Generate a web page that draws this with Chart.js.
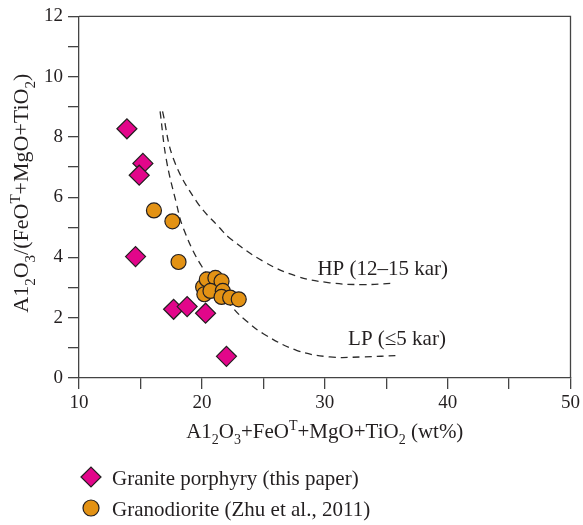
<!DOCTYPE html>
<html>
<head>
<meta charset="utf-8">
<title>Al2O3/(FeOT+MgO+TiO2) vs Al2O3+FeOT+MgO+TiO2</title>
<script src="https://cdn.jsdelivr.net/npm/chart.js@4.4.1/dist/chart.umd.min.js"></script>
<style>
  html, body { margin: 0; padding: 0; background: #fff; }
  #wrap { width: 583px; height: 525px; }
</style>
</head>
<body>
<div id="wrap"><canvas id="chart" width="583" height="525"></canvas></div>
<script>
// labelled ticks (minor ticks are drawn unlabelled in between)
var xTicks = [10, 20, 30, 40, 50];
var yTicks = [0, 2, 4, 6, 8, 10, 12];

// granite porphyry (this paper)
var porphyryX = [13.9, 15.2, 14.9, 14.6, 17.7, 18.8, 20.3, 22.0];
var porphyryY = [8.27, 7.12, 6.73, 4.03, 2.28, 2.37, 2.15, 0.72];

// granodiorite (Zhu et al., 2011)
var granodioriteX = [16.1, 17.6, 18.1, 20.1, 20.4, 21.1, 21.6, 20.2, 20.7, 21.7, 21.6, 22.3, 23.0];
var granodioriteY = [5.56, 5.20, 3.85, 3.02, 3.27, 3.32, 3.21, 2.78, 2.89, 2.89, 2.69, 2.67, 2.61];

// pressure boundary curves
var hpX = [16.8, 17.7, 19.6, 21.5, 22.3, 25.0, 27.7, 30.4, 33.1, 35.5];
var hpY = [8.85, 7.26, 5.84, 4.96, 4.63, 3.87, 3.38, 3.16, 3.10, 3.14];
var lpX = [16.6, 17.1, 17.9, 18.5, 20.0, 22.5, 23.6, 25.0, 27.7, 30.4, 33.1, 36.1];
var lpY = [8.85, 7.26, 5.84, 4.96, 3.70, 2.34, 1.90, 1.47, 0.92, 0.70, 0.70, 0.75];

var xTitle = [['A1'], ['2', 'sub'], ['O'], ['3', 'sub'], ['+FeO'], ['T', 'sup'], ['+MgO+TiO'], ['2', 'sub'], [' (wt%)']];
var yTitle = [['A1'], ['2', 'sub'], ['O'], ['3', 'sub'], ['/(FeO'], ['T', 'sup'], ['+MgO+TiO'], ['2', 'sub'], [')']];

var SERIF = '"Liberation Serif", "DejaVu Serif", serif';
var INK = '#231F20';
var AXIS = '#444444';

function pairs(xs, ys) {
    return xs.map(function (x, i) { return { x: x, y: ys[i] }; });
}

// text with sub/superscript segments, drawn centred on x
function drawRich(ctx, segs, x, y, size) {
    var small = Math.round(size * 0.68);
    var total = 0;
    segs.forEach(function (s) {
        ctx.font = (s[1] ? small : size) + 'px ' + SERIF;
        total += ctx.measureText(s[0]).width;
    });
    var cx = x - total / 2;
    ctx.textAlign = 'left';
    ctx.textBaseline = 'alphabetic';
    segs.forEach(function (s) {
        var dy = 0;
        if (s[1] === 'sub') dy = size * 0.3;
        if (s[1] === 'sup') dy = -size * 0.38;
        ctx.font = (s[1] ? small : size) + 'px ' + SERIF;
        ctx.fillText(s[0], cx, y + dy);
        cx += ctx.measureText(s[0]).width;
    });
}

function drawMarker(ctx, style, x, y, r, fill) {
    ctx.beginPath();
    if (style === 'rectRot') {
        ctx.moveTo(x - r, y);
        ctx.lineTo(x, y - r);
        ctx.lineTo(x + r, y);
        ctx.lineTo(x, y + r);
        ctx.closePath();
    } else {
        ctx.arc(x, y, r, 0, Math.PI * 2);
    }
    ctx.fillStyle = fill;
    ctx.fill();
    ctx.lineWidth = 1.2;
    ctx.strokeStyle = INK;
    ctx.stroke();
}

// top/right frame lines, axis titles, curve names and the legend underneath
var decorations = {
    id: 'decorations',
    beforeDatasetsDraw: function (chart) {
        var ctx = chart.ctx, a = chart.chartArea;
        ctx.save();
        ctx.strokeStyle = AXIS;
        ctx.lineWidth = 1.3;
        ctx.beginPath();
        ctx.moveTo(a.left, a.top);
        ctx.lineTo(a.right, a.top);
        ctx.lineTo(a.right, a.bottom);
        ctx.stroke();
        ctx.restore();
    },
    afterDraw: function (chart) {
        var ctx = chart.ctx, a = chart.chartArea;
        var xs = chart.scales.x, ys = chart.scales.y;
        ctx.save();
        ctx.fillStyle = INK;

        drawRich(ctx, xTitle, (a.left + a.right) / 2, 438, 21);

        ctx.save();
        ctx.translate(28, (a.top + a.bottom) / 2 - 4);
        ctx.rotate(-Math.PI / 2);
        ctx.fillStyle = INK;
        drawRich(ctx, yTitle, 0, 0, 22);
        ctx.restore();

        ctx.font = '21px ' + SERIF;
        ctx.textAlign = 'left';
        ctx.textBaseline = 'middle';
        ctx.fillText('HP (12\u201315 kar)', xs.getPixelForValue(29.4), ys.getPixelForValue(3.6));
        ctx.fillText('LP (\u22645 kar)', xs.getPixelForValue(31.9), ys.getPixelForValue(1.27));

        var rows = [477, 508];
        chart.data.datasets.slice(0, 2).forEach(function (ds, i) {
            var r = ds.pointStyle === 'rectRot' ? 10 : 8;
            drawMarker(ctx, ds.pointStyle, 91, rows[i], r, ds.backgroundColor);
            ctx.fillStyle = INK;
            ctx.font = '21px ' + SERIF;
            ctx.textAlign = 'left';
            ctx.textBaseline = 'alphabetic';
            ctx.fillText(ds.label, 112, rows[i] + 8);
        });
        ctx.restore();
    }
};

function curve(label, xs, ys) {
    return {
        type: 'line',
        label: label,
        data: pairs(xs, ys),
        showLine: true,
        borderColor: '#2b2b2b',
        borderWidth: 1.3,
        borderDash: [7, 5],
        pointRadius: 0,
        tension: 0.4,
        fill: false
    };
}

new Chart(document.getElementById('chart'), {
    type: 'scatter',
    data: {
        datasets: [{
            label: 'Granite porphyry (this paper)',
            data: pairs(porphyryX, porphyryY),
            pointStyle: 'rectRot',
            pointRadius: 10,
            backgroundColor: '#E2068A',
            borderColor: INK,
            borderWidth: 1.2
        }, {
            label: 'Granodiorite (Zhu et al., 2011)',
            data: pairs(granodioriteX, granodioriteY),
            pointStyle: 'circle',
            pointRadius: 7.5,
            backgroundColor: '#E39214',
            borderColor: INK,
            borderWidth: 1.2
        },
        curve('HP', hpX, hpY),
        curve('LP', lpX, lpY)]
    },
    options: {
        responsive: false,
        animation: false,
        layout: { padding: { left: 0, top: 12, right: 12, bottom: 77 } },
        plugins: {
            legend: { display: false },
            tooltip: { enabled: false }
        },
        scales: {
            x: {
                type: 'linear',
                min: 10,
                max: 50,
                afterFit: function (scale) { scale.height = 70; },
                border: { display: true, color: AXIS, width: 1.3 },
                grid: { drawOnChartArea: false, drawTicks: true, tickLength: 11, color: AXIS, lineWidth: 1.3 },
                ticks: {
                    stepSize: 5,
                    padding: 3,
                    color: INK,
                    font: { family: SERIF, size: 19 },
                    maxRotation: 0,
                    callback: function (v) { return xTicks.indexOf(v) >= 0 ? String(v) : ''; }
                }
            },
            y: {
                type: 'linear',
                min: 0,
                max: 12,
                afterFit: function (scale) { scale.width = 79; },
                border: { display: true, color: AXIS, width: 1.3 },
                grid: { drawOnChartArea: false, drawTicks: true, tickLength: 11, color: AXIS, lineWidth: 1.3 },
                ticks: {
                    stepSize: 1,
                    padding: 5,
                    color: INK,
                    font: { family: SERIF, size: 19 },
                    callback: function (v) { return yTicks.indexOf(v) >= 0 ? String(v) : ''; }
                }
            }
        }
    },
    plugins: [decorations]
});
</script>
</body>
</html>
